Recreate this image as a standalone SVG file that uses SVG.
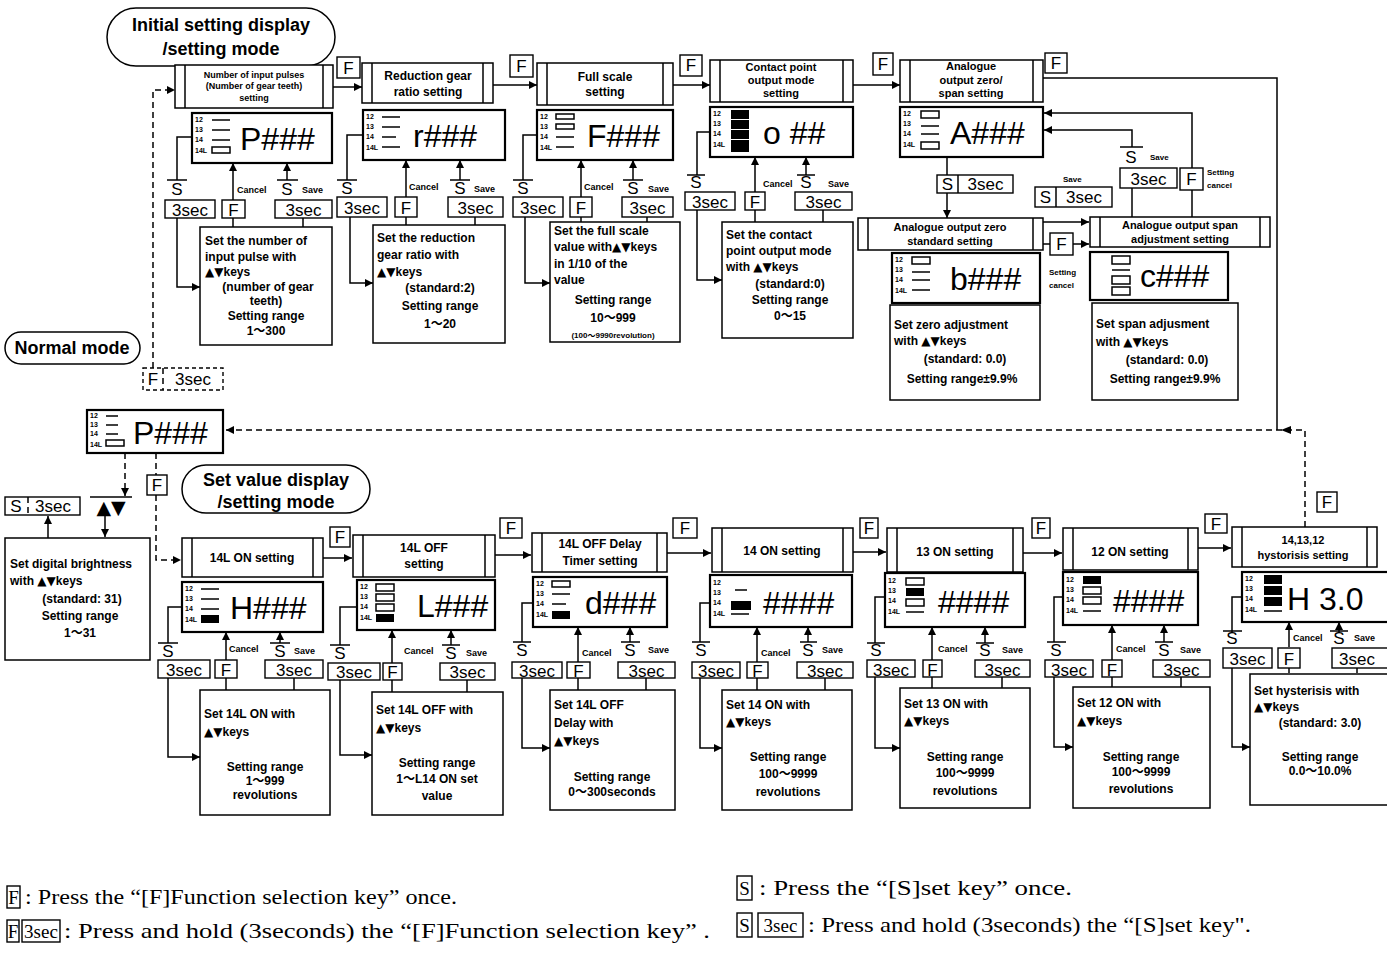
<svg xmlns="http://www.w3.org/2000/svg" width="1387" height="954" viewBox="0 0 1387 954">
<defs>
<marker id="ar" viewBox="0 0 10 10" refX="10" refY="5" markerWidth="10" markerHeight="8" markerUnits="userSpaceOnUse" orient="auto"><path d="M0,0 L10,5 L0,10 z" fill="#000"/></marker>
</defs>
<style>
.ln{fill:none;stroke:#000;stroke-width:1.5}
.dl{fill:none;stroke:#000;stroke-width:1.5;stroke-dasharray:6 4}
.bx{fill:#fff;stroke:#000;stroke-width:1.5}
.dp{fill:#fff;stroke:#000;stroke-width:2.2}
.k{fill:#fff;stroke:#000;stroke-width:1.4}
.kd{fill:#fff;stroke:#000;stroke-width:1.4;stroke-dasharray:4 3}
.sg{fill:none;stroke:#000;stroke-width:1.5}
.sf{fill:#000}
text{font-family:"Liberation Sans","Noto Sans CJK JP",Arial,sans-serif;fill:#000}
.tri{font-family:"DejaVu Sans",sans-serif;font-weight:normal}
.t{font-size:12px;font-weight:bold}
.tc{font-size:12px;font-weight:bold;text-anchor:middle}
.tc11{font-size:11px;font-weight:bold;text-anchor:middle}
.s{font-size:9px;font-weight:bold}
.s8{font-size:8px;font-weight:bold}
.lb{font-size:7px;font-weight:bold}
.big{font-size:32px}
.key{font-size:17px;text-anchor:middle}
.ov{font-size:18px;font-weight:bold;text-anchor:middle}
.lg{font-family:"Liberation Serif","Times New Roman",serif;font-size:21px}
.lk{font-family:"Liberation Serif","Times New Roman",serif;font-size:19px;text-anchor:middle}
</style>
<rect width="1387" height="954" fill="#fff"/>

<!-- connectors -->
<g id="connectors">
<path class="dl" d="M153,368 V90 H175" marker-end="url(#ar)"/>
<path class="ln" d="M333,87 H362" marker-end="url(#ar)"/>
<path class="ln" d="M493,85 H537" marker-end="url(#ar)"/>
<path class="ln" d="M673,85 H710" marker-end="url(#ar)"/>
<path class="ln" d="M853,85 H900" marker-end="url(#ar)"/>
<path class="ln" d="M1043,78 H1277 V430"/>
<path class="ln" d="M192,137 H177 V180"/>
<path class="ln" d="M177,218 V287 H200" marker-end="url(#ar)"/>
<path class="ln" d="M233,227 V218"/>
<path class="ln" d="M233,200 V163" marker-end="url(#ar)"/>
<path class="ln" d="M303,227 V218"/>
<path class="ln" d="M287,180 V163" marker-end="url(#ar)"/>
<path class="ln" d="M363,135 H347 V180"/>
<path class="ln" d="M350,217 V283 H373" marker-end="url(#ar)"/>
<path class="ln" d="M406,225 V217"/>
<path class="ln" d="M406,197 V160" marker-end="url(#ar)"/>
<path class="ln" d="M475,225 V217"/>
<path class="ln" d="M460,180 V160" marker-end="url(#ar)"/>
<path class="ln" d="M537,135 H523 V180"/>
<path class="ln" d="M525,217 V283 H550" marker-end="url(#ar)"/>
<path class="ln" d="M581,222 V217"/>
<path class="ln" d="M581,197 V160" marker-end="url(#ar)"/>
<path class="ln" d="M647,222 V217"/>
<path class="ln" d="M633,180 V160" marker-end="url(#ar)"/>
<path class="ln" d="M710,132 H697 V175"/>
<path class="ln" d="M697,210 V280 H722" marker-end="url(#ar)"/>
<path class="ln" d="M755,222 V210"/>
<path class="ln" d="M755,192 V157" marker-end="url(#ar)"/>
<path class="ln" d="M823,222 V210"/>
<path class="ln" d="M806,175 V157" marker-end="url(#ar)"/>
<path class="ln" d="M947,157 V175"/>
<path class="ln" d="M947,193 V218" marker-end="url(#ar)"/>
<path class="ln" d="M1132,217 V188"/>
<path class="ln" d="M1132,147 V130 H1044" marker-end="url(#ar)"/>
<path class="ln" d="M1192,217 V190"/>
<path class="ln" d="M1192,168 V113 H1044" marker-end="url(#ar)"/>
<path class="ln" d="M1043,222 H1089" marker-end="url(#ar)"/>
<path class="ln" d="M1043,244 H1050"/>
<path class="ln" d="M1073,244 H1089" marker-end="url(#ar)"/>
<path class="dl" d="M1305,527 V430 H226" marker-end="url(#ar)"/>
<path d="M1281,430 L1291,426 L1291,434 z" fill="#000"/>
<path class="dl" d="M125,453 V496" marker-end="url(#ar)"/>
<path class="ln" d="M48,538 V516" marker-end="url(#ar)"/>
<path class="ln" d="M105,515 V537" marker-end="url(#ar)"/>
<path class="dl" d="M156,453 V475"/>
<path class="dl" d="M156,495 V560 H181" marker-end="url(#ar)"/>
<path class="ln" d="M323,558 H352" marker-end="url(#ar)"/>
<path class="ln" d="M495,555 H531" marker-end="url(#ar)"/>
<path class="ln" d="M667,553 H711" marker-end="url(#ar)"/>
<path class="ln" d="M853,552 H886" marker-end="url(#ar)"/>
<path class="ln" d="M1023,553 H1062" marker-end="url(#ar)"/>
<path class="ln" d="M1198,548 H1231" marker-end="url(#ar)"/>
<path class="ln" d="M182,607 H168 V643"/>
<path class="ln" d="M168,678 V757 H200" marker-end="url(#ar)"/>
<path class="ln" d="M226,690 V678"/>
<path class="ln" d="M226,660 V632" marker-end="url(#ar)"/>
<path class="ln" d="M294,690 V678"/>
<path class="ln" d="M280,643 V632" marker-end="url(#ar)"/>
<path class="ln" d="M357,607 H340 V645"/>
<path class="ln" d="M340,680 V755 H372" marker-end="url(#ar)"/>
<path class="ln" d="M392,692 V680"/>
<path class="ln" d="M392,663 V630" marker-end="url(#ar)"/>
<path class="ln" d="M467,692 V680"/>
<path class="ln" d="M451,645 V630" marker-end="url(#ar)"/>
<path class="ln" d="M533,603 H522 V642"/>
<path class="ln" d="M522,678 V748 H550" marker-end="url(#ar)"/>
<path class="ln" d="M578,690 V678"/>
<path class="ln" d="M578,662 V627" marker-end="url(#ar)"/>
<path class="ln" d="M646,690 V678"/>
<path class="ln" d="M630,642 V627" marker-end="url(#ar)"/>
<path class="ln" d="M710,603 H700 V642"/>
<path class="ln" d="M700,678 V748 H722" marker-end="url(#ar)"/>
<path class="ln" d="M757,690 V678"/>
<path class="ln" d="M757,662 V627" marker-end="url(#ar)"/>
<path class="ln" d="M825,690 V678"/>
<path class="ln" d="M808,642 V627" marker-end="url(#ar)"/>
<path class="ln" d="M885,597 H875 V643"/>
<path class="ln" d="M875,677 V748 H900" marker-end="url(#ar)"/>
<path class="ln" d="M932,688 V677"/>
<path class="ln" d="M932,660 V627" marker-end="url(#ar)"/>
<path class="ln" d="M1002,688 V677"/>
<path class="ln" d="M985,643 V627" marker-end="url(#ar)"/>
<path class="ln" d="M1063,597 H1054 V642"/>
<path class="ln" d="M1054,677 V747 H1073" marker-end="url(#ar)"/>
<path class="ln" d="M1112,687 V677"/>
<path class="ln" d="M1112,660 V625" marker-end="url(#ar)"/>
<path class="ln" d="M1181,687 V677"/>
<path class="ln" d="M1164,642 V625" marker-end="url(#ar)"/>
<path class="ln" d="M1242,597 H1232 V633"/>
<path class="ln" d="M1232,667 V747 H1250" marker-end="url(#ar)"/>
<path class="ln" d="M1289,673 V667"/>
<path class="ln" d="M1289,647 V622" marker-end="url(#ar)"/>
<path class="ln" d="M1357,673 V667"/>
<path class="ln" d="M1339,633 V622" marker-end="url(#ar)"/>
</g>

<g id="mode-initial">
<rect class="bx" x="107" y="8" width="228" height="58" rx="29"/>
<text class="ov" x="221" y="31">Initial setting display</text>
<text class="ov" x="221" y="55">/setting mode</text>
</g>
<g id="mode-normal">
<rect class="bx" x="5" y="332" width="135" height="32" rx="16"/>
<text class="ov" x="72" y="354" font-size="17">Normal mode</text>
</g>
<g id="mode-setvalue">
<rect class="bx" x="182" y="465" width="188" height="48" rx="24"/>
<text class="ov" x="276" y="486">Set value display</text>
<text class="ov" x="276" y="508">/setting mode</text>
</g>

<g id="m1-input-pulse">
<rect class="bx" x="175" y="65" width="158" height="43"/>
<line class="ln" x1="185" y1="65" x2="185" y2="108"/><line class="ln" x1="323" y1="65" x2="323" y2="108"/>
<text class="s" text-anchor="middle" x="254" y="78">Number of input pulses</text>
<text class="s" text-anchor="middle" x="254" y="89">(Number of gear teeth)</text>
<text class="s" text-anchor="middle" x="254" y="101">setting</text>
<rect class="dp" x="192" y="113" width="140" height="50"/>
<text class="lb" x="195" y="122">12</text><text class="lb" x="195" y="132">13</text><text class="lb" x="195" y="142">14</text><text class="lb" x="195" y="153">14L</text>
<line class="sg" x1="212" y1="120" x2="230" y2="120"/><line class="sg" x1="212" y1="130" x2="230" y2="130"/><line class="sg" x1="212" y1="140" x2="230" y2="140"/><rect class="sg" x="212" y="147" width="18" height="6"/>
<text class="big" x="240" y="150">P###</text>
<line class="ln" x1="167" y1="180" x2="187" y2="180"/><text class="key" x="177" y="195">S</text>
<rect class="k" x="165" y="200" width="50" height="18"/><text class="key" x="190" y="216">3sec</text>
<rect class="k" x="222" y="200" width="23" height="18"/><text class="key" x="233.5" y="216">F</text>
<text class="s" x="237" y="193">Cancel</text>
<line class="ln" x1="277" y1="180" x2="298" y2="180"/><text class="key" x="287" y="195">S</text>
<text class="s" x="302" y="193">Save</text>
<rect class="k" x="275" y="200" width="57" height="18"/><text class="key" x="303.5" y="216">3sec</text>
<rect class="bx" x="200" y="227" width="132" height="118"/>
<text class="t" x="205" y="245">Set the number of</text>
<text class="t" x="205" y="261">input pulse with</text>
<text class="t" x="205" y="276"><tspan class="tri">▲▼</tspan>keys</text>
<text class="tc" x="268" y="291">(number of gear</text>
<text class="tc" x="266" y="305">teeth)</text>
<text class="tc" x="266" y="320">Setting range</text>
<text class="tc" x="266" y="335">1～300</text>
</g>

<g id="m2-reduction-gear">
<rect class="k" x="337" y="57" width="23" height="21"/><text class="key" x="348.5" y="74">F</text>
<rect class="bx" x="362" y="63" width="131" height="40"/>
<line class="ln" x1="372" y1="63" x2="372" y2="103"/><line class="ln" x1="483" y1="63" x2="483" y2="103"/>
<text class="tc" x="428" y="80">Reduction gear</text>
<text class="tc" x="428" y="96">ratio setting</text>
<rect class="dp" x="363" y="110" width="142" height="50"/>
<text class="lb" x="366" y="119">12</text><text class="lb" x="366" y="129">13</text><text class="lb" x="366" y="139">14</text><text class="lb" x="366" y="150">14L</text>
<line class="sg" x1="382" y1="117" x2="400" y2="117"/><line class="sg" x1="382" y1="127" x2="400" y2="127"/><line class="sg" x1="382" y1="137" x2="396" y2="137"/><line class="sg" x1="382" y1="147" x2="400" y2="147"/>
<text class="big" x="413" y="147">r###</text>
<line class="ln" x1="337" y1="180" x2="357" y2="180"/><text class="key" x="347" y="194">S</text>
<rect class="k" x="337" y="197" width="50" height="20"/><text class="key" x="362" y="214">3sec</text>
<rect class="k" x="395" y="197" width="22" height="20"/><text class="key" x="406" y="214">F</text>
<text class="s" x="409" y="190">Cancel</text>
<line class="ln" x1="450" y1="180" x2="470" y2="180"/><text class="key" x="460" y="194">S</text>
<text class="s" x="474" y="192">Save</text>
<rect class="k" x="448" y="197" width="55" height="20"/><text class="key" x="475.5" y="214">3sec</text>
<rect class="bx" x="373" y="225" width="132" height="118"/>
<text class="t" x="377" y="242">Set the reduction</text>
<text class="t" x="377" y="259">gear ratio with</text>
<text class="t" x="377" y="276"><tspan class="tri">▲▼</tspan>keys</text>
<text class="tc" x="440" y="292">(standard:2)</text>
<text class="tc" x="440" y="310">Setting range</text>
<text class="tc" x="440" y="328">1～20</text>
</g>

<g id="m3-full-scale">
<rect class="k" x="510" y="55" width="23" height="22"/><text class="key" x="521.5" y="72">F</text>
<rect class="bx" x="537" y="63" width="136" height="42"/>
<line class="ln" x1="547" y1="63" x2="547" y2="105"/><line class="ln" x1="663" y1="63" x2="663" y2="105"/>
<text class="tc" x="605" y="81">Full scale</text>
<text class="tc" x="605" y="96">setting</text>
<rect class="dp" x="537" y="110" width="136" height="50"/>
<text class="lb" x="540" y="119">12</text><text class="lb" x="540" y="129">13</text><text class="lb" x="540" y="139">14</text><text class="lb" x="540" y="150">14L</text>
<rect class="sg" x="556" y="114" width="18" height="5"/><rect class="sg" x="556" y="124" width="18" height="5"/><line class="sg" x1="556" y1="137" x2="574" y2="137"/><line class="sg" x1="556" y1="147" x2="574" y2="147"/>
<text class="big" x="587" y="147">F###</text>
<line class="ln" x1="513" y1="180" x2="533" y2="180"/><text class="key" x="523" y="194">S</text>
<rect class="k" x="513" y="197" width="50" height="20"/><text class="key" x="538" y="214">3sec</text>
<rect class="k" x="570" y="197" width="22" height="20"/><text class="key" x="581" y="214">F</text>
<text class="s" x="584" y="190">Cancel</text>
<line class="ln" x1="623" y1="180" x2="643" y2="180"/><text class="key" x="633" y="194">S</text>
<text class="s" x="648" y="192">Save</text>
<rect class="k" x="622" y="197" width="51" height="20"/><text class="key" x="647.5" y="214">3sec</text>
<rect class="bx" x="550" y="222" width="130" height="120"/>
<text class="t" x="554" y="235">Set the full scale</text>
<text class="t" x="554" y="251">value with<tspan class="tri">▲▼</tspan>keys</text>
<text class="t" x="554" y="268">in 1/10 of the</text>
<text class="t" x="554" y="284">value</text>
<text class="tc" x="613" y="304">Setting range</text>
<text class="tc" x="613" y="322">10～999</text>
<text class="s8" text-anchor="middle" x="613" y="338">(100～9990revolution)</text>
</g>

<g id="m4-contact-point">
<rect class="k" x="680" y="55" width="22" height="21"/><text class="key" x="691" y="71">F</text>
<rect class="bx" x="710" y="60" width="143" height="42"/>
<line class="ln" x1="720" y1="60" x2="720" y2="102"/><line class="ln" x1="843" y1="60" x2="843" y2="102"/>
<text class="tc11" x="781" y="71">Contact point</text>
<text class="tc11" x="781" y="84">output mode</text>
<text class="tc11" x="781" y="97">setting</text>
<rect class="dp" x="710" y="107" width="143" height="50"/>
<text class="lb" x="713" y="116">12</text><text class="lb" x="713" y="126">13</text><text class="lb" x="713" y="136">14</text><text class="lb" x="713" y="147">14L</text>
<rect class="sf" x="731" y="110" width="18" height="9"/><rect class="sf" x="731" y="120" width="18" height="9"/><rect class="sf" x="731" y="130" width="18" height="9"/><rect class="sf" x="731" y="140" width="18" height="12"/>
<text class="big" x="763" y="144">o ##</text>
<line class="ln" x1="687" y1="175" x2="705" y2="175"/><text class="key" x="696" y="188">S</text>
<rect class="k" x="685" y="192" width="50" height="18"/><text class="key" x="710" y="208">3sec</text>
<rect class="k" x="745" y="192" width="20" height="18"/><text class="key" x="755" y="208">F</text>
<text class="s" x="763" y="187">Cancel</text>
<line class="ln" x1="797" y1="175" x2="815" y2="175"/><text class="key" x="806" y="188">S</text>
<text class="s" x="828" y="187">Save</text>
<rect class="k" x="795" y="192" width="57" height="18"/><text class="key" x="823.5" y="208">3sec</text>
<rect class="bx" x="722" y="222" width="131" height="116"/>
<text class="t" x="726" y="239">Set the contact</text>
<text class="t" x="726" y="255">point output mode</text>
<text class="t" x="726" y="271">with <tspan class="tri">▲▼</tspan>keys</text>
<text class="tc" x="790" y="288">(standard:0)</text>
<text class="tc" x="790" y="304">Setting range</text>
<text class="tc" x="790" y="320">0～15</text>
</g>

<g id="m5-analogue">
<rect class="k" x="873" y="53" width="20" height="22"/><text class="key" x="883" y="70">F</text>
<rect class="bx" x="900" y="60" width="143" height="42"/>
<line class="ln" x1="910" y1="60" x2="910" y2="102"/><line class="ln" x1="1033" y1="60" x2="1033" y2="102"/>
<text class="tc11" x="971" y="70">Analogue</text>
<text class="tc11" x="971" y="84">output zero/</text>
<text class="tc11" x="971" y="97">span setting</text>
<rect class="dp" x="900" y="107" width="143" height="50"/>
<text class="lb" x="903" y="116">12</text><text class="lb" x="903" y="126">13</text><text class="lb" x="903" y="136">14</text><text class="lb" x="903" y="147">14L</text>
<rect class="sg" x="921" y="111" width="18" height="7"/><line class="sg" x1="921" y1="126" x2="939" y2="126"/><line class="sg" x1="921" y1="134" x2="939" y2="134"/><rect class="sg" x="921" y="142" width="18" height="7"/>
<text class="big" x="950" y="144">A###</text>
<rect class="k" x="937" y="175" width="76" height="18"/><line class="ln" x1="958" y1="175" x2="958" y2="193"/>
<text class="key" x="947.5" y="190">S</text><text class="key" x="985.5" y="190">3sec</text>
<rect class="k" x="1045" y="53" width="22" height="20"/><text class="key" x="1056" y="69">F</text>
</g>
<g id="m5-zero">
<rect class="bx" x="858" y="218" width="185" height="32"/>
<line class="ln" x1="868" y1="218" x2="868" y2="250"/><line class="ln" x1="1033" y1="218" x2="1033" y2="250"/>
<text class="tc11" x="950" y="231">Analogue output zero</text>
<text class="tc11" x="950" y="245">standard setting</text>
<rect class="dp" x="892" y="253" width="148" height="50"/>
<text class="lb" x="895" y="262">12</text><text class="lb" x="895" y="272">13</text><text class="lb" x="895" y="282">14</text><text class="lb" x="895" y="293">14L</text>
<rect class="sg" x="912" y="257" width="18" height="7"/><line class="sg" x1="912" y1="272" x2="930" y2="272"/><line class="sg" x1="912" y1="280" x2="930" y2="280"/><line class="sg" x1="912" y1="290" x2="930" y2="290"/>
<text class="big" x="950" y="290">b###</text>
<rect class="bx" x="890" y="305" width="150" height="95"/>
<text class="t" x="894" y="329">Set zero adjustment</text>
<text class="t" x="894" y="345">with <tspan class="tri">▲▼</tspan>keys</text>
<text class="tc" x="965" y="363">(standard: 0.0)</text>
<text class="tc" x="962" y="383">Setting range±9.9%</text>
<text class="s8" x="1063" y="182">Save</text>
<rect class="k" x="1035" y="187" width="77" height="20"/><line class="ln" x1="1056" y1="187" x2="1056" y2="207"/>
<text class="key" x="1045.5" y="203">S</text><text class="key" x="1084" y="203">3sec</text>
<rect class="k" x="1050" y="233" width="23" height="22"/><text class="key" x="1061.5" y="250">F</text>
<text class="s8" x="1049" y="275">Setting</text>
<text class="s8" x="1049" y="288">cancel</text>
</g>
<g id="m5-span">
<line class="ln" x1="1120" y1="147" x2="1143" y2="147"/><text class="key" x="1131" y="163">S</text>
<text class="s8" x="1150" y="160">Save</text>
<rect class="k" x="1120" y="168" width="57" height="20"/><text class="key" x="1148.5" y="185">3sec</text>
<rect class="k" x="1180" y="168" width="23" height="22"/><text class="key" x="1191.5" y="185">F</text>
<text class="s8" x="1207" y="175">Setting</text>
<text class="s8" x="1207" y="188">cancel</text>
<rect class="bx" x="1090" y="217" width="180" height="30"/>
<line class="ln" x1="1100" y1="217" x2="1100" y2="247"/><line class="ln" x1="1260" y1="217" x2="1260" y2="247"/>
<text class="tc11" x="1180" y="229">Analogue output span</text>
<text class="tc11" x="1180" y="243">adjustment setting</text>
<rect class="dp" x="1090" y="252" width="138" height="48"/>
<rect class="sg" x="1112" y="256" width="18" height="8"/><line class="sg" x1="1112" y1="270" x2="1130" y2="270"/><rect class="sg" x="1112" y="276" width="18" height="8"/><rect class="sg" x="1112" y="287" width="18" height="8"/>
<text class="big" x="1140" y="287">c###</text>
<rect class="bx" x="1092" y="303" width="146" height="97"/>
<text class="t" x="1096" y="328">Set span adjusment</text>
<text class="t" x="1096" y="346">with <tspan class="tri">▲▼</tspan>keys</text>
<text class="tc" x="1167" y="364">(standard: 0.0)</text>
<text class="tc" x="1165" y="383">Setting range±9.9%</text>
</g>

<g id="normal-display">
<rect class="kd" x="143" y="368" width="80" height="22"/><line class="dl" x1="163" y1="368" x2="163" y2="390"/>
<text class="key" x="153" y="385">F</text><text class="key" x="193" y="385">3sec</text>
<rect class="dp" x="87" y="410" width="136" height="43"/>
<text class="lb" x="90" y="418" font-size="6.5">12</text><text class="lb" x="90" y="427" font-size="6.5">13</text><text class="lb" x="90" y="436" font-size="6.5">14</text><text class="lb" x="90" y="447" font-size="6.5">14L</text>
<line class="sg" x1="106" y1="416" x2="118" y2="416"/><line class="sg" x1="106" y1="425" x2="118" y2="425"/><line class="sg" x1="106" y1="434" x2="118" y2="434"/><rect class="sg" x="106" y="440" width="18" height="6"/>
<text class="big" x="133" y="444">P###</text>
<rect class="k" x="147" y="475" width="20" height="20"/><text class="key" x="157" y="491">F</text>
</g>
<g id="brightness">
<rect class="k" x="5" y="497" width="75" height="18"/><line class="dl" x1="28" y1="497" x2="28" y2="515"/>
<text class="key" x="16" y="512">S</text><text class="key" x="53" y="512">3sec</text>
<line class="ln" x1="90" y1="497" x2="132" y2="497"/>
<text class="tri" x="111" y="514" font-size="19" text-anchor="middle">▲▼</text>
<rect class="bx" x="5" y="538" width="145" height="122"/>
<text class="t" x="10" y="568">Set digital brightness</text>
<text class="t" x="10" y="585">with <tspan class="tri">▲▼</tspan>keys</text>
<text class="tc" x="82" y="603">(standard: 31)</text>
<text class="tc" x="80" y="620">Setting range</text>
<text class="tc" x="80" y="637">1～31</text>
</g>

<g id="b1-14l-on">
<rect class="bx" x="182" y="538" width="141" height="39"/>
<line class="ln" x1="192" y1="538" x2="192" y2="577"/><line class="ln" x1="313" y1="538" x2="313" y2="577"/>
<text class="tc" x="252" y="562">14L ON setting</text>
<rect class="dp" x="182" y="582" width="141" height="50"/>
<text class="lb" x="185" y="591">12</text><text class="lb" x="185" y="601">13</text><text class="lb" x="185" y="611">14</text><text class="lb" x="185" y="622">14L</text>
<line class="sg" x1="201" y1="589" x2="219" y2="589"/><line class="sg" x1="201" y1="599" x2="219" y2="599"/><line class="sg" x1="201" y1="609" x2="219" y2="609"/><rect class="sf" x="201" y="615" width="18" height="8"/>
<text class="big" x="230" y="619">H###</text>
<line class="ln" x1="158" y1="643" x2="178" y2="643"/><text class="key" x="168" y="657">S</text>
<rect class="k" x="158" y="660" width="52" height="18"/><text class="key" x="184" y="676">3sec</text>
<rect class="k" x="215" y="660" width="22" height="18"/><text class="key" x="226" y="676">F</text>
<text class="s" x="229" y="652">Cancel</text>
<line class="ln" x1="270" y1="643" x2="290" y2="643"/><text class="key" x="280" y="657">S</text>
<text class="s" x="294" y="654">Save</text>
<rect class="k" x="265" y="660" width="58" height="18"/><text class="key" x="294" y="676">3sec</text>
<rect class="bx" x="200" y="690" width="130" height="125"/>
<text class="t" x="204" y="718">Set 14L ON with</text>
<text class="t" x="204" y="736"><tspan class="tri">▲▼</tspan>keys</text>
<text class="tc" x="265" y="771">Setting range</text>
<text class="tc" x="265" y="785">1～999</text>
<text class="tc" x="265" y="799">revolutions</text>
</g>

<g id="b2-14l-off">
<rect class="k" x="330" y="527" width="20" height="20"/><text class="key" x="340" y="543">F</text>
<rect class="bx" x="353" y="535" width="142" height="42"/>
<line class="ln" x1="363" y1="535" x2="363" y2="577"/><line class="ln" x1="485" y1="535" x2="485" y2="577"/>
<text class="tc" x="424" y="552">14L OFF</text>
<text class="tc" x="424" y="568">setting</text>
<rect class="dp" x="357" y="580" width="138" height="50"/>
<text class="lb" x="360" y="589">12</text><text class="lb" x="360" y="599">13</text><text class="lb" x="360" y="609">14</text><text class="lb" x="360" y="620">14L</text>
<rect class="sg" x="376" y="584" width="18" height="7"/><rect class="sg" x="376" y="594" width="18" height="7"/><rect class="sg" x="376" y="604" width="18" height="7"/><rect class="sf" x="376" y="614" width="18" height="8"/>
<text class="big" x="417" y="617">L###</text>
<line class="ln" x1="330" y1="645" x2="350" y2="645"/><text class="key" x="340" y="659">S</text>
<rect class="k" x="328" y="663" width="52" height="17"/><text class="key" x="354" y="678">3sec</text>
<rect class="k" x="383" y="663" width="19" height="17"/><text class="key" x="392.5" y="678">F</text>
<text class="s" x="404" y="654">Cancel</text>
<line class="ln" x1="442" y1="645" x2="460" y2="645"/><text class="key" x="451" y="659">S</text>
<text class="s" x="466" y="656">Save</text>
<rect class="k" x="440" y="663" width="55" height="17"/><text class="key" x="467.5" y="678">3sec</text>
<rect class="bx" x="372" y="692" width="131" height="123"/>
<text class="t" x="376" y="714">Set 14L OFF with</text>
<text class="t" x="376" y="732"><tspan class="tri">▲▼</tspan>keys</text>
<text class="tc" x="437" y="767">Setting range</text>
<text class="tc" x="437" y="783">1～L14 ON set</text>
<text class="tc" x="437" y="800">value</text>
</g>

<g id="b3-14l-off-delay">
<rect class="k" x="500" y="518" width="22" height="20"/><text class="key" x="511" y="534">F</text>
<rect class="bx" x="532" y="533" width="135" height="39"/>
<line class="ln" x1="542" y1="533" x2="542" y2="572"/><line class="ln" x1="657" y1="533" x2="657" y2="572"/>
<text class="tc" x="600" y="548">14L OFF Delay</text>
<text class="tc" x="600" y="565">Timer setting</text>
<rect class="dp" x="533" y="577" width="134" height="50"/>
<text class="lb" x="536" y="586">12</text><text class="lb" x="536" y="596">13</text><text class="lb" x="536" y="606">14</text><text class="lb" x="536" y="617">14L</text>
<rect class="sg" x="552" y="581" width="18" height="6"/><line class="sg" x1="552" y1="594" x2="570" y2="594"/><line class="sg" x1="552" y1="604" x2="566" y2="604"/><rect class="sf" x="552" y="611" width="18" height="8"/>
<text class="big" x="585" y="614">d###</text>
<line class="ln" x1="513" y1="642" x2="531" y2="642"/><text class="key" x="522" y="656">S</text>
<rect class="k" x="512" y="662" width="50" height="16"/><text class="key" x="537" y="677">3sec</text>
<rect class="k" x="567" y="662" width="23" height="16"/><text class="key" x="578.5" y="677">F</text>
<text class="s" x="582" y="656">Cancel</text>
<line class="ln" x1="621" y1="642" x2="640" y2="642"/><text class="key" x="630" y="656">S</text>
<text class="s" x="648" y="653">Save</text>
<rect class="k" x="618" y="662" width="57" height="16"/><text class="key" x="646.5" y="677">3sec</text>
<rect class="bx" x="550" y="690" width="125" height="120"/>
<text class="t" x="554" y="709">Set 14L OFF</text>
<text class="t" x="554" y="727">Delay with</text>
<text class="t" x="554" y="745"><tspan class="tri">▲▼</tspan>keys</text>
<text class="tc" x="612" y="781">Setting range</text>
<text class="tc" x="612" y="796">0～300seconds</text>
</g>

<g id="b4-14-on">
<rect class="k" x="673" y="518" width="24" height="20"/><text class="key" x="685" y="534">F</text>
<rect class="bx" x="712" y="528" width="141" height="44"/>
<line class="ln" x1="722" y1="528" x2="722" y2="572"/><line class="ln" x1="843" y1="528" x2="843" y2="572"/>
<text class="tc" x="782" y="555">14 ON setting</text>
<rect class="dp" x="710" y="575" width="142" height="52"/>
<text class="lb" x="713" y="585">12</text><text class="lb" x="713" y="595">13</text><text class="lb" x="713" y="605">14</text><text class="lb" x="713" y="616">14L</text>
<line class="sg" x1="735" y1="590" x2="747" y2="590"/><rect class="sf" x="731" y="601" width="20" height="9"/><line class="sg" x1="731" y1="614" x2="749" y2="614"/>
<text class="big" x="763" y="614">####</text>
<line class="ln" x1="692" y1="642" x2="710" y2="642"/><text class="key" x="701" y="656">S</text>
<rect class="k" x="692" y="662" width="48" height="16"/><text class="key" x="716" y="677">3sec</text>
<rect class="k" x="747" y="662" width="21" height="16"/><text class="key" x="757.5" y="677">F</text>
<text class="s" x="761" y="656">Cancel</text>
<line class="ln" x1="800" y1="642" x2="817" y2="642"/><text class="key" x="808" y="656">S</text>
<text class="s" x="822" y="653">Save</text>
<rect class="k" x="797" y="662" width="56" height="16"/><text class="key" x="825" y="677">3sec</text>
<rect class="bx" x="722" y="690" width="130" height="120"/>
<text class="t" x="726" y="709">Set 14 ON with</text>
<text class="t" x="726" y="726"><tspan class="tri">▲▼</tspan>keys</text>
<text class="tc" x="788" y="761">Setting range</text>
<text class="tc" x="788" y="778">100～9999</text>
<text class="tc" x="788" y="796">revolutions</text>
</g>

<g id="b5-13-on">
<rect class="k" x="860" y="518" width="18" height="20"/><text class="key" x="869" y="534">F</text>
<rect class="bx" x="887" y="528" width="136" height="44"/>
<line class="ln" x1="897" y1="528" x2="897" y2="572"/><line class="ln" x1="1013" y1="528" x2="1013" y2="572"/>
<text class="tc" x="955" y="556">13 ON setting</text>
<rect class="dp" x="885" y="573" width="140" height="54"/>
<text class="lb" x="888" y="583">12</text><text class="lb" x="888" y="593">13</text><text class="lb" x="888" y="603">14</text><text class="lb" x="888" y="614">14L</text>
<rect class="sg" x="906" y="578" width="18" height="7"/><rect class="sf" x="906" y="588" width="18" height="8"/><rect class="sg" x="906" y="599" width="18" height="7"/><line class="sg" x1="906" y1="612" x2="924" y2="612"/>
<text class="big" x="938" y="613">####</text>
<line class="ln" x1="867" y1="643" x2="885" y2="643"/><text class="key" x="876" y="656">S</text>
<rect class="k" x="867" y="660" width="48" height="17"/><text class="key" x="891" y="676">3sec</text>
<rect class="k" x="923" y="660" width="19" height="17"/><text class="key" x="932.5" y="676">F</text>
<text class="s" x="938" y="652">Cancel</text>
<line class="ln" x1="976" y1="643" x2="994" y2="643"/><text class="key" x="985" y="656">S</text>
<text class="s" x="1002" y="653">Save</text>
<rect class="k" x="975" y="660" width="55" height="17"/><text class="key" x="1002.5" y="676">3sec</text>
<rect class="bx" x="900" y="688" width="130" height="120"/>
<text class="t" x="904" y="708">Set 13 ON with</text>
<text class="t" x="904" y="725"><tspan class="tri">▲▼</tspan>keys</text>
<text class="tc" x="965" y="761">Setting range</text>
<text class="tc" x="965" y="777">100～9999</text>
<text class="tc" x="965" y="795">revolutions</text>
</g>

<g id="b6-12-on">
<rect class="k" x="1032" y="518" width="18" height="20"/><text class="key" x="1041" y="534">F</text>
<rect class="bx" x="1063" y="528" width="135" height="42"/>
<line class="ln" x1="1073" y1="528" x2="1073" y2="570"/><line class="ln" x1="1188" y1="528" x2="1188" y2="570"/>
<text class="tc" x="1130" y="556">12 ON setting</text>
<rect class="dp" x="1063" y="572" width="135" height="53"/>
<text class="lb" x="1066" y="582">12</text><text class="lb" x="1066" y="592">13</text><text class="lb" x="1066" y="602">14</text><text class="lb" x="1066" y="613">14L</text>
<rect class="sf" x="1083" y="576" width="18" height="8"/><rect class="sg" x="1083" y="587" width="18" height="7"/><rect class="sg" x="1083" y="597" width="18" height="7"/><line class="sg" x1="1083" y1="611" x2="1101" y2="611"/>
<text class="big" x="1113" y="612">####</text>
<line class="ln" x1="1047" y1="642" x2="1066" y2="642"/><text class="key" x="1056" y="656">S</text>
<rect class="k" x="1045" y="660" width="48" height="17"/><text class="key" x="1069" y="676">3sec</text>
<rect class="k" x="1102" y="660" width="20" height="17"/><text class="key" x="1112" y="676">F</text>
<text class="s" x="1116" y="652">Cancel</text>
<line class="ln" x1="1155" y1="642" x2="1173" y2="642"/><text class="key" x="1164" y="656">S</text>
<text class="s" x="1180" y="653">Save</text>
<rect class="k" x="1153" y="660" width="57" height="17"/><text class="key" x="1181.5" y="676">3sec</text>
<rect class="bx" x="1073" y="687" width="137" height="121"/>
<text class="t" x="1077" y="707">Set 12 ON with</text>
<text class="t" x="1077" y="725"><tspan class="tri">▲▼</tspan>keys</text>
<text class="tc" x="1141" y="761">Setting range</text>
<text class="tc" x="1141" y="776">100～9999</text>
<text class="tc" x="1141" y="793">revolutions</text>
</g>

<g id="b7-hysteresis">
<rect class="k" x="1317" y="492" width="20" height="20"/><text class="key" x="1327" y="508">F</text>
<rect class="k" x="1205" y="514" width="22" height="19"/><text class="key" x="1216" y="530">F</text>
<rect class="bx" x="1232" y="527" width="145" height="40"/>
<line class="ln" x1="1242" y1="527" x2="1242" y2="567"/><line class="ln" x1="1367" y1="527" x2="1367" y2="567"/>
<text class="tc11" x="1303" y="544">14,13,12</text>
<text class="tc11" x="1303" y="559">hystorisis setting</text>
<rect class="dp" x="1242" y="572" width="150" height="50"/>
<text class="lb" x="1245" y="581">12</text><text class="lb" x="1245" y="591">13</text><text class="lb" x="1245" y="601">14</text><text class="lb" x="1245" y="612">14L</text>
<rect class="sf" x="1264" y="575" width="18" height="9"/><rect class="sf" x="1264" y="586" width="18" height="9"/><rect class="sf" x="1264" y="597" width="18" height="9"/><line class="sg" x1="1264" y1="611" x2="1282" y2="611"/>
<text class="big" x="1287" y="610" font-size="34">H 3.0</text>
<line class="ln" x1="1223" y1="631" x2="1242" y2="631"/><text class="key" x="1232" y="644">S</text>
<rect class="k" x="1223" y="648" width="49" height="20"/><text class="key" x="1247.5" y="665">3sec</text>
<rect class="k" x="1278" y="648" width="22" height="20"/><text class="key" x="1289" y="665">F</text>
<text class="s" x="1293" y="641">Cancel</text>
<line class="ln" x1="1330" y1="631" x2="1348" y2="631"/><text class="key" x="1339" y="644">S</text>
<text class="s" x="1354" y="641">Save</text>
<rect class="k" x="1332" y="648" width="60" height="20"/><text class="key" x="1357" y="665">3sec</text>
<rect class="bx" x="1250" y="674" width="140" height="131"/>
<text class="t" x="1254" y="695">Set hysterisis with</text>
<text class="t" x="1254" y="711"><tspan class="tri">▲▼</tspan>keys</text>
<text class="tc" x="1320" y="727">(standard: 3.0)</text>
<text class="tc" x="1320" y="761">Setting range</text>
<text class="tc" x="1320" y="775">0.0～10.0%</text>
</g>

<g id="legend">
<rect class="k" x="7" y="886" width="13" height="22"/><text class="lk" x="13.5" y="904">F</text>
<text class="lg" x="25" y="904" textLength="432" lengthAdjust="spacingAndGlyphs">: Press the “[F]Function selection key”  once.</text>
<rect class="k" x="7" y="920" width="12" height="22"/><text class="lk" x="13" y="938">F</text>
<rect class="k" x="22" y="920" width="38" height="22"/><text class="lk" x="41" y="938">3sec</text>
<text class="lg" x="64" y="938" textLength="646" lengthAdjust="spacingAndGlyphs">: Press and hold (3seconds) the “[F]Function selection key” .</text>
<rect class="k" x="737" y="876" width="15" height="24"/><text class="lk" x="744.5" y="895">S</text>
<text class="lg" x="759" y="895" textLength="313" lengthAdjust="spacingAndGlyphs">: Press the “[S]set key”  once.</text>
<rect class="k" x="737" y="913" width="15" height="24"/><text class="lk" x="744.5" y="932">S</text>
<rect class="k" x="758" y="913" width="45" height="24"/><text class="lk" x="780.5" y="932">3sec</text>
<text class="lg" x="808" y="932" textLength="443" lengthAdjust="spacingAndGlyphs">: Press and hold (3seconds) the “[S]set key".</text>
</g>
</svg>
